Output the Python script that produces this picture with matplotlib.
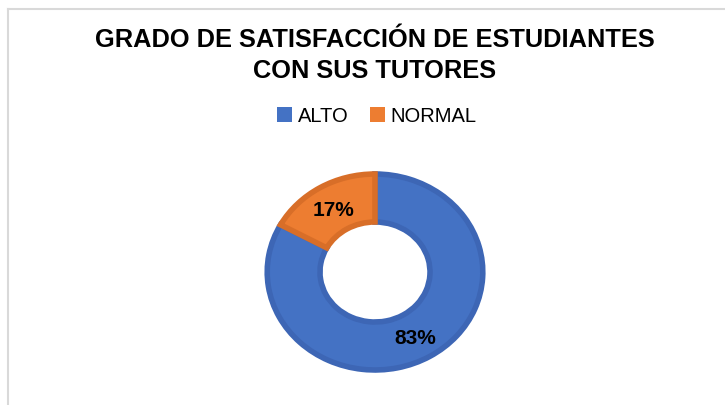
import matplotlib
matplotlib.use("Agg")
import matplotlib.pyplot as plt
from matplotlib.patches import Patch
from matplotlib.lines import Line2D

labels = ["ALTO", "NORMAL"]
values = [83, 17]
colors = ["#4472C4", "#ED7D31"]
edges = ["#3D66B5", "#D86E28"]

narrow = ["Liberation Sans Narrow", "Liberation Sans", "DejaVu Sans"]

fig = plt.figure(figsize=(7.25, 4.05), dpi=100)

# thin frame lines (top and left)
fig.add_artist(Line2D([8/725, 1], [1 - 9/405, 1 - 9/405], color="#D9D9D9", lw=1.5))
fig.add_artist(Line2D([8/725, 8/725], [0, 1 - 9/405], color="#D9D9D9", lw=1.5))

fig.text(375/725, 1 - 40/405, "GRADO DE SATISFACCIÓN DE ESTUDIANTES",
         ha="center", va="center", fontsize=18.3, fontweight="bold", family=narrow)
fig.text(375/725, 1 - 71/405, "CON SUS TUTORES",
         ha="center", va="center", fontsize=18.3, fontweight="bold", family=narrow)

# donut, slightly wider than tall
ax = fig.add_axes([265/725, 1 - 372/405, 220/725, 200/405])
wedges, _ = ax.pie(values, colors=colors, startangle=90, counterclock=False,
                   radius=0.98, wedgeprops=dict(width=0.48, linewidth=4))
for w, ec in zip(wedges, edges):
    w.set_edgecolor(ec)
ax.set_aspect("auto")
ax.set_xlim(-1.0, 1.0)
ax.set_ylim(-1.0, 1.0)
ax.axis("off")

ax.text(0.37, -0.66, f"{values[0]}%", ha="center", va="center",
        fontsize=15, fontweight="bold", family=narrow)
ax.text(-0.38, 0.62, f"{values[1]}%", ha="center", va="center",
        fontsize=15, fontweight="bold", family=narrow)

handles = [Patch(facecolor=c, edgecolor="none") for c in colors]
fig.legend(handles, labels, loc="center", bbox_to_anchor=(377/725, 1 - 116/405),
           ncol=2, frameon=False, handlelength=0.7, handleheight=0.7,
           handletextpad=0.3, columnspacing=1.1,
           prop=dict(family=narrow, size=14.5))

fig.savefig("out.png", dpi=100)
